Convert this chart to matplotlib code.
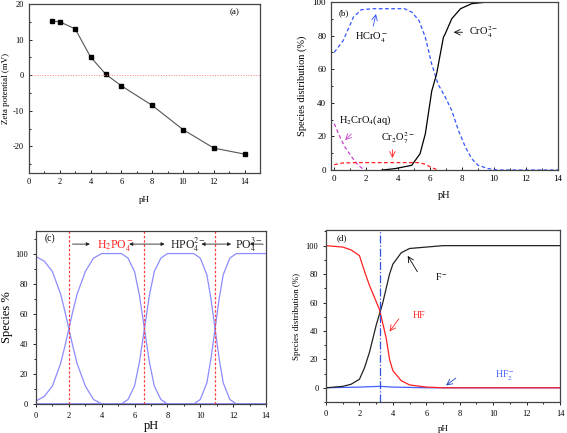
import matplotlib
matplotlib.use("Agg")
import matplotlib.pyplot as plt
from matplotlib.ticker import MultipleLocator

plt.rcParams['font.family'] = ['Liberation Serif', 'DejaVu Serif']
plt.rcParams['mathtext.fontset'] = 'stix'
plt.rcParams['axes.unicode_minus'] = False

# (a) zeta potential
zeta_ph = [1.5, 2, 3, 4, 5, 6, 8, 10, 12, 14]
zeta_mv = [15.2, 15.0, 13.0, 5.1, 0.2, -3.0, -8.5, -15.3, -20.5, -22.2]

# (b) chromium species
hcro4_ph = [0, 0.56, 1.2, 1.7, 2.4, 4.4, 4.85, 5.3, 5.7, 6.1, 6.5, 6.94, 7.35, 7.77, 8.2, 8.6, 9.0, 9.65, 10.2, 14]
hcro4_pct = [70, 77, 91, 95.4, 96, 96, 94, 89, 79, 63, 51, 43.5, 35.5, 23.6, 13.7, 6.7, 2.8, 0.8, 0, 0]
cro4_ph = [3.0, 3.8, 4.85, 5.37, 5.7, 6.1, 6.4, 6.83, 6.94, 7.35, 7.9, 8.6, 9.4, 10, 14]
cro4_pct = [0, 0.8, 2.8, 9.7, 21.6, 47, 57, 79, 81, 90, 96, 99, 99.8, 100, 100]
h2cro4_ph = [0, 0.36, 0.67, 1.1, 1.5, 1.9]
h2cro4_pct = [27.6, 19.6, 13.7, 7.7, 2.8, 0]
cr2o7_ph = [0, 0.56, 1.5, 5.3, 5.7, 6.1, 6.5]
cr2o7_pct = [3.2, 4.2, 4.4, 4.4, 3.4, 1.4, 0]

# (c) phosphate species
h3po4_ph = [0, 0.5, 1, 1.5, 1.75, 2, 2.25, 2.5, 3, 3.5, 4, 14]
h3po4_pct = [98, 95, 88, 73, 62, 50, 38, 27, 12, 3, 0, 0]
h2po4_ph = [0, 0.5, 1, 1.5, 1.75, 2, 2.25, 2.5, 3, 3.5, 4, 5.2, 5.6, 6.0, 6.3, 6.6, 6.9, 7.2, 7.6, 8.0, 14]
h2po4_pct = [2, 5, 12, 27, 38, 50, 62, 73, 88, 97, 100, 100, 97, 88, 72, 50, 28, 12, 3, 0, 0]
hpo4_ph = [0, 5.2, 5.6, 6.0, 6.3, 6.6, 6.9, 7.2, 7.6, 8.0, 9.6, 10.0, 10.4, 10.65, 10.9, 11.15, 11.4, 11.8, 12.2, 14]
hpo4_pct = [0, 0, 3, 12, 28, 50, 72, 88, 97, 100, 100, 97, 86, 70, 50, 30, 14, 3, 0, 0]
po4_ph = [0, 9.6, 10.0, 10.4, 10.65, 10.9, 11.15, 11.4, 11.8, 12.2, 14]
po4_pct = [0, 0, 3, 14, 30, 50, 70, 86, 97, 100, 100]
pka_lines = [2.0, 6.6, 10.9]

# (d) fluoride species
f_ph = [0, 1, 1.5, 2, 2.3, 2.6, 3.0, 3.4, 3.8, 4.0, 4.5, 5, 6, 7, 14]
f_pct = [0, 1, 2.5, 6, 14, 25, 44, 60, 80, 87, 95, 98, 99, 100, 100]
hf_ph = [0, 1, 1.5, 2, 2.3, 2.6, 3.2, 3.6, 3.8, 4.0, 4.5, 5, 6, 7, 14]
hf_pct = [100, 99, 97, 93, 82, 72, 55, 35, 20, 12, 5, 2, 0.5, 0, 0]
hf2_ph = [0, 2, 3.2, 4, 6, 14]
hf2_pct = [0, 0.5, 1, 0.5, 0, 0]
v_line_d = 3.25

fig = plt.figure(figsize=(5.67, 4.33), dpi=100)
axa = fig.add_axes([0.0511, 0.6005, 0.4074, 0.3903])
axb = fig.add_axes([0.5838, 0.6074, 0.4004, 0.3880])
axc = fig.add_axes([0.0635, 0.0670, 0.4056, 0.3995])
axd = fig.add_axes([0.5750, 0.0716, 0.4127, 0.3972])

for ax in (axa, axb, axc, axd):
    for s in ax.spines.values():
        s.set_color('#444444')
        s.set_linewidth(0.9)
    ax.xaxis.set_major_locator(MultipleLocator(2))
    ax.xaxis.set_minor_locator(MultipleLocator(1))

# ---- (a)
axa.plot(zeta_ph, zeta_mv, color='#555555', lw=0.8, marker='s', ms=3.5,
         mfc='black', mec='black')
axa.axhline(0, color='#ff8080', lw=0.7, ls=':')
axa.set_xlim(0, 15)
axa.set_ylim(-27.5, 20)
axa.yaxis.set_major_locator(MultipleLocator(10))
axa.yaxis.set_minor_locator(MultipleLocator(5))
axa.tick_params(which='both', direction='in', labelsize=6, length=2, width=0.6)
axa.tick_params(which='minor', length=1.2)
axa.set_xlabel('pH', fontsize=6.5, labelpad=7)
axa.set_ylabel('Zeta potential (mV)', fontsize=6.5, labelpad=2)
axa.text(13, 17, '(a)', fontsize=6.5)

# ---- (b)
axb.plot(hcro4_ph, hcro4_pct, color='#3355ff', lw=0.9, ls=(0, (3, 2)))
axb.plot(cro4_ph, cro4_pct, color='black', lw=0.9)
axb.plot(h2cro4_ph, h2cro4_pct, color='#cc44cc', lw=0.9, ls=(0, (3, 2)))
axb.plot(cr2o7_ph, cr2o7_pct, color='#ff2020', lw=0.9, ls=(0, (3, 2)))
axb.set_xlim(-0.2, 14)
axb.set_ylim(0, 100)
axb.yaxis.set_major_locator(MultipleLocator(20))
axb.yaxis.set_minor_locator(MultipleLocator(10))
axb.tick_params(which='both', direction='in', labelsize=6.5, length=2, width=0.6)
axb.tick_params(which='minor', length=1.2)
axb.set_xlabel('pH', fontsize=7.5, labelpad=6)
axb.set_ylabel('Species distribution (%)', fontsize=7.5, labelpad=4)
axb.text(0.25, 92, '(b)', fontsize=6.5)
axb.text(1.3, 78, r'HCrO$_4^-$', fontsize=7.5)
axb.annotate('', xy=(2.65, 94.5), xytext=(2.4, 84),
             arrowprops=dict(arrowstyle='->', color='#3355ff', lw=0.6))
axb.text(8.4, 80.5, r'CrO$_4^{2-}$', fontsize=7.5)
axb.annotate('', xy=(7.3, 82), xytext=(8.2, 82),
             arrowprops=dict(arrowstyle='->', color='black', lw=0.6))
axb.text(0.3, 28, r'H$_2$CrO$_4$(aq)', fontsize=7.5)
axb.annotate('', xy=(0.55, 16.7), xytext=(1.2, 22.6),
             arrowprops=dict(arrowstyle='->', color='#cc44cc', lw=0.6))
axb.text(2.9, 17, r'Cr$_2$O$_7^{2-}$', fontsize=7.5)
axb.annotate('', xy=(3.64, 5.5), xytext=(3.64, 13.7),
             arrowprops=dict(arrowstyle='->', color='#ff2020', lw=0.6))

# ---- (c)
curve_c = '#8c8cff'
for xs, ys in ((h3po4_ph, h3po4_pct), (h2po4_ph, h2po4_pct),
               (hpo4_ph, hpo4_pct), (po4_ph, po4_pct)):
    axc.plot(xs, ys, color=curve_c, lw=0.9)
for v in pka_lines:
    axc.axvline(v, color='#ff4040', lw=0.9, ls=(0, (2, 1.5)))
axc.set_xlim(0, 14)
axc.set_ylim(0, 115)
axc.yaxis.set_major_locator(MultipleLocator(20))
axc.yaxis.set_minor_locator(MultipleLocator(10))
axc.tick_params(which='both', direction='out', labelsize=6, length=2, width=0.6)
axc.tick_params(which='minor', length=1.2)
axc.set_xlabel('pH', fontsize=9, labelpad=0)
axc.set_ylabel('Species %', fontsize=9, labelpad=2)
axc.text(0.55, 108.5, '(c)', fontsize=7)
ya = 106.3
ap = dict(arrowstyle='-|>', color='#222222', lw=0.6, mutation_scale=5)
ap2 = dict(arrowstyle='<|-|>', color='#222222', lw=0.6, mutation_scale=5)
axc.annotate('', xy=(3.45, ya), xytext=(2.05, ya), arrowprops=ap)
axc.annotate('', xy=(5.5, ya), xytext=(8.0, ya), arrowprops=ap2)
axc.annotate('', xy=(9.9, ya), xytext=(12.05, ya), arrowprops=ap2)
axc.annotate('', xy=(12.85, ya), xytext=(14.0, ya), arrowprops=ap)
axc.text(3.7, 105.5, r'H$_2$PO$_4^-$', fontsize=8.5, color='#ff2020', va='center')
axc.text(8.15, 105.5, r'HPO$_4^{2-}$', fontsize=8.5, color='#222222', va='center')
axc.text(12.1, 105.5, r'PO$_4^{3-}$', fontsize=8.5, color='#222222', va='center')

# ---- (d)
axd.plot(hf2_ph, hf2_pct, color='#4060ff', lw=0.9)
axd.plot(f_ph, f_pct, color='#222222', lw=0.9)
axd.plot(hf_ph, hf_pct, color='#ff2020', lw=0.9)
axd.axvline(v_line_d, color='#3050e0', lw=0.9, ls='-.')
axd.set_xlim(0, 14)
axd.set_ylim(-10, 111)
axd.yaxis.set_major_locator(MultipleLocator(20))
axd.yaxis.set_minor_locator(MultipleLocator(10))
axd.tick_params(which='both', direction='out', labelsize=6, length=2, width=0.6)
axd.tick_params(which='minor', length=1.2)
axd.set_xlabel('pH', fontsize=6.5, labelpad=5)
axd.set_ylabel('Species distribution (%)', fontsize=6.5, labelpad=3)
axd.text(0.65, 103.5, '(d)', fontsize=6.5)
axd.text(6.5, 76, r'F$^-$', fontsize=7)
axd.annotate('', xy=(4.8, 94.5), xytext=(5.55, 80),
             arrowprops=dict(arrowstyle='->', color='black', lw=0.6))
axd.text(5.2, 49, 'HF', fontsize=7, color='#ff2020')
axd.annotate('', xy=(3.7, 38), xytext=(4.45, 50),
             arrowprops=dict(arrowstyle='->', color='#ff2020', lw=0.6))
axd.text(10.1, 7.5, r'HF$_2^-$', fontsize=7, color='#4060ff')
axd.annotate('', xy=(7.05, 0.5), xytext=(7.9, 8),
             arrowprops=dict(arrowstyle='->', color='#2040c0', lw=0.6))

fig.savefig('out.png', dpi=100)
